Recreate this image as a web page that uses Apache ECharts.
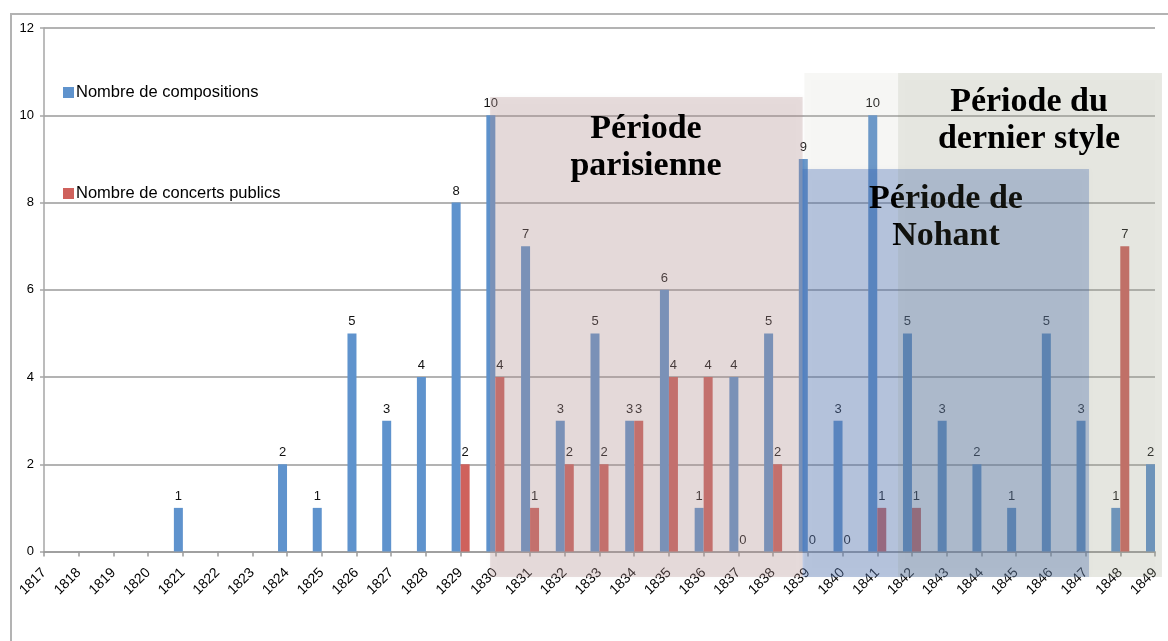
<!DOCTYPE html>
<html>
<head>
<meta charset="utf-8">
<script src="https://cdn.jsdelivr.net/npm/echarts@6/dist/echarts.min.js"></script>
<style>
  html, body { margin: 0; padding: 0; background: #fff; }
  #chopin_chart { width: 1168px; height: 641px; }
</style>
</head>
<body>
<div id="chopin_chart"></div>
<script>
var years = ['1817', '1818', '1819', '1820', '1821', '1822', '1823', '1824', '1825', '1826', '1827',
  '1828', '1829', '1830', '1831', '1832', '1833', '1834', '1835', '1836', '1837', '1838', '1839',
  '1840', '1841', '1842', '1843', '1844', '1845', '1846', '1847', '1848', '1849']
var compositions = [null, null, null, null, 1, null, null, 2, 1, 5, 3,
  4, 8, 10, 7, 3, 5, 3, 6, 1, 4, 5, 9,
  3, 10, 5, 3, 2, 1, 5, 3, 1, 2]
var concerts = [null, null, null, null, null, null, null, null, null, null, null,
  null, 2, 4, 1, 2, 2, 3, 4, 4, 0, 2, 0,
  0, 1, 1, null, null, null, null, null, 7, null]
var seriesNames = ['Nombre de compositions', 'Nombre de concerts publics']
var colorList = ['#5f93cd', '#cf615c']

// grid en pixels (axe y a x=44, 1817 -> 1849 sur 1111px)
var gridLeft = 44
var gridRight = 13
var step = (1168 - gridLeft - gridRight) / (years.length - 1)
function xOf(year) {
  return gridLeft + (year - 1817) * step
}

var titleFont = 'bold 34px "Liberation Serif", "DejaVu Serif", serif'
var titleShadow = {
  shadowBlur: 5,
  shadowColor: 'rgba(0,0,0,0.55)',
  shadowOffsetX: 2,
  shadowOffsetY: 3
}

function periodText(text, x, y, z) {
  return {
    type: 'text',
    z: z,
    x: x,
    y: y,
    style: Object.assign({
      text: text,
      font: titleFont,
      fill: '#000',
      align: 'center',
      verticalAlign: 'middle',
      lineHeight: 37
    }, titleShadow)
  }
}

var chart = echarts.init(document.getElementById('chopin_chart'))
chart.setOption({
  animation: false,
  textStyle: { fontFamily: '"Liberation Sans", Arial, sans-serif' },
  legend: {
    orient: 'vertical',
    left: 58,
    top: 79,
    itemGap: 84,
    itemWidth: 11,
    itemHeight: 11,
    icon: 'rect',
    data: seriesNames,
    textStyle: { fontSize: 16.5, color: '#000', padding: [0, 0, 0, -3] }
  },
  grid: {
    left: gridLeft,
    right: gridRight,
    top: 28,
    bottom: 89.5
  },
  xAxis: {
    type: 'category',
    data: years,
    boundaryGap: false,
    axisLine: { lineStyle: { color: '#9a9a9a', width: 1.5 } },
    axisTick: { show: true, length: 5, interval: 0, lineStyle: { color: '#9a9a9a', width: 1.5 } },
    axisLabel: { interval: 0, rotate: 45, fontSize: 14, color: '#000', margin: 19 }
  },
  yAxis: {
    type: 'value',
    min: 0,
    max: 12,
    interval: 2,
    axisLine: { show: true, lineStyle: { color: '#a6a6a6', width: 1.5 } },
    axisTick: { show: true, length: 4, lineStyle: { color: '#a6a6a6', width: 1.5 } },
    axisLabel: { fontSize: 13, color: '#000', margin: 10 },
    splitLine: { lineStyle: { color: '#9a9a9a', width: 1.5 } }
  },
  series: [
    {
      name: seriesNames[0],
      type: 'bar',
      data: compositions,
      barWidth: 9,
      barGap: '0%',
      itemStyle: { color: colorList[0] },
      label: { show: true, position: 'top', fontSize: 13, color: '#111', distance: 5 }
    },
    {
      name: seriesNames[1],
      type: 'bar',
      data: concerts,
      barWidth: 9,
      barGap: '0%',
      itemStyle: { color: colorList[1] },
      label: { show: true, position: 'top', fontSize: 13, color: '#111', distance: 5 }
    }
  ],
  graphic: [
    // cadre
    {
      type: 'polyline',
      z: 1,
      shape: { points: [[11, 641], [11, 14], [1168, 14]] },
      style: { stroke: '#b3b3b3', lineWidth: 2, fill: null }
    },
    // Période parisienne
    {
      type: 'rect',
      z: 10,
      shape: { x: xOf(1829.85), y: 97, width: xOf(1838.85) - xOf(1829.85), height: 480 },
      style: { fill: 'rgba(188,152,152,0.32)', shadowBlur: 6, shadowColor: 'rgba(0,0,0,0.1)' }
    },
    periodText('Période\nparisienne', 646, 148, 11),
    // Période du dernier style (partie claire)
    {
      type: 'rect',
      z: 12,
      shape: { x: xOf(1838.9), y: 73, width: xOf(1849.2) - xOf(1838.9), height: 504 },
      style: { fill: 'rgba(200,200,185,0.14)', shadowBlur: 6, shadowColor: 'rgba(0,0,0,0.06)' }
    },
    // Période de Nohant
    {
      type: 'rect',
      z: 13,
      shape: { x: xOf(1838.85), y: 169, width: xOf(1847.1) - xOf(1838.85), height: 408 },
      style: { fill: 'rgba(60,104,186,0.33)', shadowBlur: 6, shadowColor: 'rgba(0,0,0,0.1)' }
    },
    periodText('Période de\nNohant', 946, 218, 14),
    // Période du dernier style (partie foncée)
    {
      type: 'rect',
      z: 15,
      shape: { x: xOf(1841.6), y: 73, width: xOf(1849.2) - xOf(1841.6), height: 504 },
      style: { fill: 'rgba(132,136,105,0.13)', shadowBlur: 6, shadowColor: 'rgba(0,0,0,0.06)' }
    },
    periodText('Période du\ndernier style', 1029, 121, 16)
  ]
})
</script>
</body>
</html>
